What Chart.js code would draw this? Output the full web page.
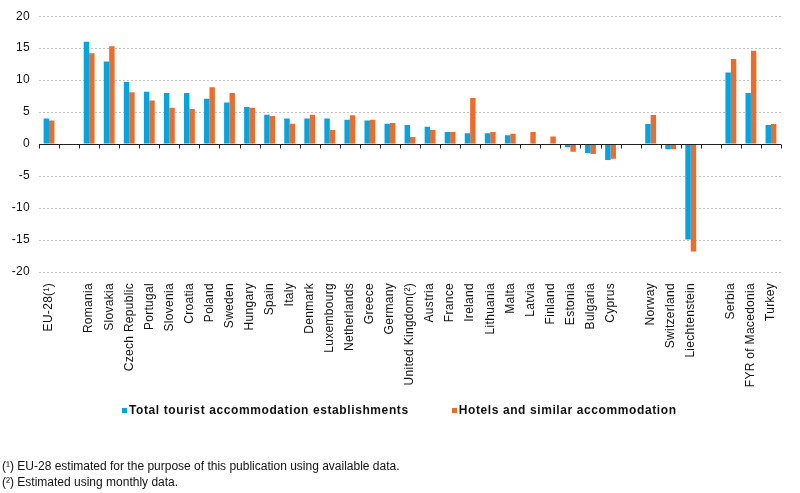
<!DOCTYPE html>
<html>
<head>
<meta charset="utf-8">
<script src="https://cdn.jsdelivr.net/npm/chart.js@4/dist/chart.umd.min.js"></script>
<style>
  body { margin: 0; background: #fff; }
  #wrap { position: relative; width: 800px; height: 493px; }
  .note { position: absolute; left: 2px; font: 12px "Liberation Sans", Arial, sans-serif; color: #111; }
  #legend { position: absolute; top: 403px; left: 122px; height: 15px; white-space: nowrap;
            font: bold 12px "Liberation Sans", Arial, sans-serif; letter-spacing: 0.6px; color: #111; line-height: 15px; }
  #legend span.item { display: inline-block; }
  #legend span.box { display: inline-block; width: 5px; height: 5px; margin-right: 2px; vertical-align: 1px; }
</style>
</head>
<body>
<div id="wrap">
  <canvas id="myChart" width="800" height="493"></canvas>
  <div id="legend"></div>
  <div class="note" style="top:459px">(¹) EU-28 estimated for the purpose of this publication using available data.</div>
  <div class="note" style="top:475px">(²) Estimated using monthly data.</div>
</div>
<script>
// blank labels are the gaps between the country groups
var countries = ['EU-28(¹)', '', 'Romania', 'Slovakia', 'Czech Republic', 'Portugal', 'Slovenia', 'Croatia',
    'Poland', 'Sweden', 'Hungary', 'Spain', 'Italy', 'Denmark', 'Luxembourg', 'Netherlands', 'Greece',
    'Germany', 'United Kingdom(²)', 'Austria', 'France', 'Ireland', 'Lithuania', 'Malta', 'Latvia',
    'Finland', 'Estonia', 'Bulgaria', 'Cyprus', '', 'Norway', 'Switzerland', 'Liechtenstein', '',
    'Serbia', 'FYR of Macedonia', 'Turkey'];

var totalEstab = [4.0, null, 16.0, 12.9, 9.7, 8.2, 8.0, 8.0,
    7.1, 6.5, 5.8, 4.6, 4.0, 4.0, 4.0, 3.8, 3.7,
    3.2, 3.0, 2.7, 1.9, 1.7, 1.7, 1.4, 0.0,
    -0.15, -0.5, -1.4, -2.5, null, 3.15, -0.8, -14.9, null,
    11.2, 8.0, 3.0];

var hotels = [3.7, null, 14.2, 15.3, 8.1, 6.8, 5.7, 5.5,
    8.9, 8.0, 5.7, 4.4, 3.2, 4.6, 2.2, 4.5, 3.8,
    3.3, 1.1, 2.2, 1.9, 7.2, 1.9, 1.6, 1.9,
    1.2, -1.2, -1.55, -2.3, null, 4.55, -0.8, -16.8, null,
    13.3, 14.6, 3.15];

var yTicks = [-20, -15, -10, -5, 0, 5, 10, 15, 20];

var blue = '#00A5E3';
var orange = '#F06A28';

// black zero line with small tick marks between the categories
var zeroLine = {
    id: 'zeroLine',
    afterDatasetsDraw: function (chart) {
        var x = chart.scales.x, y = chart.scales.y, ctx = chart.ctx;
        var y0 = Math.round(y.getPixelForValue(0)) + 0.5;
        var step = (x.right - x.left) / countries.length;
        ctx.save();
        ctx.strokeStyle = '#222';
        ctx.lineWidth = 1;
        ctx.beginPath();
        ctx.moveTo(x.left, y0);
        ctx.lineTo(x.right, y0);
        for (var i = 0; i <= countries.length; i++) {
            var px = Math.round(x.left + i * step) + 0.5;
            ctx.moveTo(px, y0);
            ctx.lineTo(px, y0 + 4);
        }
        ctx.stroke();
        ctx.restore();
    }
};

var spacing = {
    id: 'spacing',
    beforeUpdate: function (chart) { chart.ctx.letterSpacing = '0.3px'; },
    beforeDraw: function (chart) { chart.ctx.letterSpacing = '0.3px'; }
};

var ctx = document.getElementById('myChart').getContext('2d');
var myChart = new Chart(ctx, {
    type: 'bar',
    data: {
        labels: countries,
        datasets: [{
            label: 'Total tourist accommodation establishments',
            data: totalEstab,
            backgroundColor: blue,
            categoryPercentage: 0.54,
            barPercentage: 1.0
        }, {
            label: 'Hotels and similar accommodation',
            data: hotels,
            backgroundColor: orange,
            categoryPercentage: 0.54,
            barPercentage: 1.0
        }]
    },
    options: {
        responsive: false,
        animation: false,
        layout: { padding: { top: 8, right: 19, left: 0, bottom: 98 } },
        plugins: {
            tooltip: { enabled: false },
            legend: { display: false }
        },
        scales: {
            x: {
                grid: { display: false },
                border: { display: false },
                afterFit: function (s) { s.height = 123; },
                ticks: {
                    autoSkip: false,
                    minRotation: 90,
                    maxRotation: 90,
                    padding: 3,
                    color: '#111',
                    font: { family: '"Liberation Sans", Arial', size: 12 }
                }
            },
            y: {
                min: -20,
                max: 20,
                afterFit: function (s) { s.width = 39; },
                afterBuildTicks: function (s) { s.ticks = yTicks.map(function (v) { return { value: v }; }); },
                border: { display: false, dash: [2, 2] },
                grid: { color: '#c4c4c4', drawTicks: false },
                ticks: {
                    padding: 9,
                    color: '#111',
                    font: { family: '"Liberation Sans", Arial', size: 12 }
                }
            }
        }
    },
    plugins: [zeroLine, spacing]
});

// legend built from the chart's datasets
var legend = document.getElementById('legend');
myChart.data.datasets.forEach(function (ds, i) {
    var item = document.createElement('span');
    item.className = 'item';
    if (i > 0) item.style.marginLeft = '43px';
    item.innerHTML = '<span class="box" style="background:' + ds.backgroundColor + '"></span>' + ds.label;
    legend.appendChild(item);
});
</script>
</body>
</html>
